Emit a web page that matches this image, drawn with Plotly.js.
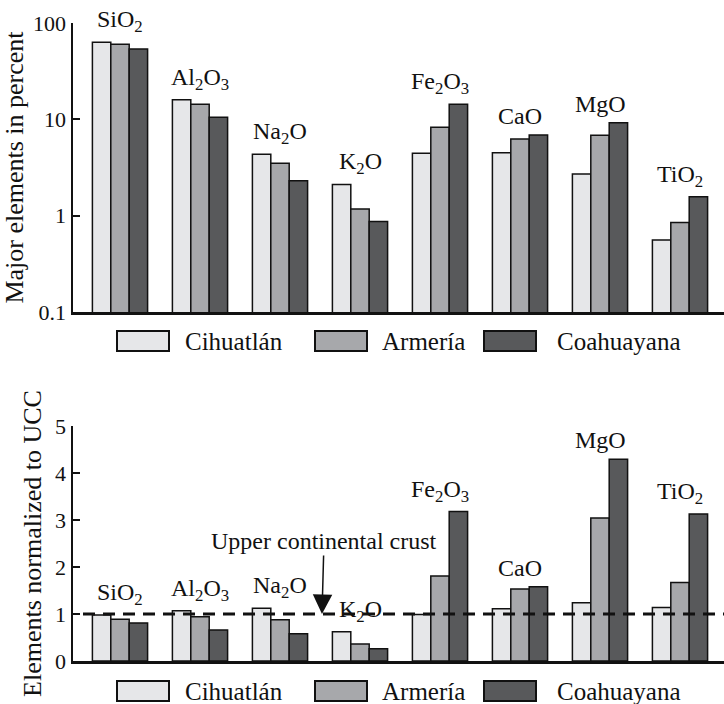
<!DOCTYPE html>
<html>
<head>
<meta charset="utf-8">
<script src="https://cdn.plot.ly/plotly-3.0.1.min.js"></script>
<style>html,body{margin:0;padding:0;background:#fff;}#chart{width:724px;height:704px;}</style>
</head>
<body>
<div id="chart"></div>
<script>
// ---- data ----
var categories = ['SiO2', 'Al2O3', 'Na2O', 'K2O', 'Fe2O3', 'CaO', 'MgO', 'TiO2'];
var categoryLabels = ['SiO<sub>2</sub>', 'Al<sub>2</sub>O<sub>3</sub>', 'Na<sub>2</sub>O', 'K<sub>2</sub>O',
                      'Fe<sub>2</sub>O<sub>3</sub>', 'CaO', 'MgO', 'TiO<sub>2</sub>'];
var seriesNames = ['Cihuatlán', 'Armería', 'Coahuayana'];
var seriesColors = ['#e6e7e9', '#a7a8ab', '#58595b'];

// Major elements in percent (log scale)
var cihuatlanPct  = [63.0, 16.0, 4.33, 2.11, 4.44, 4.51, 2.71, 0.56];
var armeriaPct    = [60.0, 14.3, 3.49, 1.17, 8.26, 6.26, 6.82, 0.85];
var coahuayanaPct = [53.8, 10.5, 2.31, 0.87, 14.3, 6.89, 9.24, 1.57];

// Elements normalized to upper continental crust
var cihuatlanUCC  = [0.98, 1.07, 1.12, 0.62, 0.99, 1.11, 1.24, 1.14];
var armeriaUCC    = [0.89, 0.94, 0.88, 0.36, 1.81, 1.53, 3.04, 1.67];
var coahuayanaUCC = [0.81, 0.66, 0.58, 0.26, 3.18, 1.58, 4.29, 3.13];
var uccReference = 1;

var topTicks = [0.1, 1, 10, 100];
var topTickText = ['0.1', '1', '10', '100'];
var bottomTicks = [0, 1, 2, 3, 4, 5];

// ---- build ----
var FONT = '"Liberation Serif", "DejaVu Serif", Times, serif';
var W = 724, H = 704, ML = 73, PW = W - ML;
var topSeries = [cihuatlanPct, armeriaPct, coahuayanaPct];
var botSeries = [cihuatlanUCC, armeriaUCC, coahuayanaUCC];

var traces = [];
topSeries.forEach(function (vals, i) {
  traces.push({type: 'bar', x: categories, y: vals, name: seriesNames[i], xaxis: 'x', yaxis: 'y',
    marker: {color: seriesColors[i], line: {color: '#111', width: 1.5}}, showlegend: false, hoverinfo: 'x+y'});
});
botSeries.forEach(function (vals, i) {
  traces.push({type: 'bar', x: categories, y: vals, name: seriesNames[i], xaxis: 'x2', yaxis: 'y2',
    marker: {color: seriesColors[i], line: {color: '#111', width: 1.5}}, showlegend: false, hoverinfo: 'x+y'});
});

var annotations = [];
var shapes = [];

function groupMax(series, k) {
  return Math.max.apply(null, series.map(function (s) { return s[k]; }));
}
categories.forEach(function (c, k) {
  annotations.push({xref: 'x', yref: 'y', x: c, y: Math.log10(groupMax(topSeries, k)), text: categoryLabels[k],
    showarrow: false, yanchor: 'bottom', yshift: 4, font: {family: FONT, size: 24, color: '#111'}});
  annotations.push({xref: 'x2', yref: 'y2', x: c, y: groupMax(botSeries, k), text: categoryLabels[k],
    showarrow: false, yanchor: 'bottom', yshift: 4, font: {family: FONT, size: 24, color: '#111'}});
});

// UCC reference line
shapes.push({type: 'line', xref: 'paper', yref: 'y2', x0: 10 / PW, x1: 1, y0: uccReference, y1: uccReference,
  line: {color: '#111', width: 3, dash: '12px,8px'}});

// Arrow annotation
annotations.push({xref: 'x2', yref: 'y2', x: 2.525, y: uccReference, ax: 2, ay: -73,
  text: 'Upper continental crust', showarrow: true, arrowhead: 2, arrowsize: 2.6, arrowwidth: 1.5,
  arrowcolor: '#111', standoff: 0, font: {family: FONT, size: 24, color: '#111'}});

// Custom legends (two rows); pixel positions converted to paper coords
var boxX = [[117, 169], [315, 367], [484, 536]];
var textX = [183, 380, 555];
var rowsY = [[331, 351], [681, 701]];
function px(x) { return (x - ML) / PW; }
rowsY.forEach(function (ry) {
  seriesNames.forEach(function (nm, i) {
    shapes.push({type: 'rect', xref: 'paper', yref: 'paper',
      x0: px(boxX[i][0]), x1: px(boxX[i][1]), y0: 1 - ry[1] / H, y1: 1 - ry[0] / H,
      fillcolor: seriesColors[i], line: {color: '#111', width: 2}});
    annotations.push({xref: 'paper', yref: 'paper', x: px(textX[i]), y: 1 - (ry[0] + ry[1]) / 2 / H,
      xanchor: 'left', yanchor: 'middle', text: nm, showarrow: false,
      font: {family: FONT, size: 25, color: '#111'}});
  });
});

var xr = [-0.5875, 7.55];
var layout = {
  width: W, height: H,
  margin: {l: ML, r: 0, t: 0, b: 0},
  paper_bgcolor: '#fff', plot_bgcolor: '#fff',
  font: {family: FONT, color: '#111'},
  barmode: 'group', bargap: 0.31, bargroupgap: 0,
  showlegend: false,
  xaxis: {domain: [0, 1], anchor: 'y', type: 'category', range: xr, showline: true, linewidth: 3, linecolor: '#111',
    showticklabels: false, ticks: '', showgrid: false, zeroline: false},
  yaxis: {domain: [1 - 312 / H, 1 - 23 / H], anchor: 'x', type: 'log', range: [-1, 2],
    tickvals: topTicks, ticktext: topTickText, ticks: 'inside', ticklen: 7, tickwidth: 2, tickcolor: '#111',
    showline: true, linewidth: 2.5, linecolor: '#111', showgrid: false, zeroline: false,
    tickfont: {family: FONT, size: 22, color: '#111'},
    title: {text: 'Major elements in percent', font: {family: FONT, size: 26, color: '#111'}, standoff: 6}},
  xaxis2: {domain: [0, 1], anchor: 'y2', type: 'category', range: xr, showline: true, linewidth: 3, linecolor: '#111',
    showticklabels: false, ticks: '', showgrid: false, zeroline: false},
  yaxis2: {domain: [1 - 661 / H, 1 - 426 / H], anchor: 'x2', range: [0, 5],
    tickvals: bottomTicks, ticks: 'inside', ticklen: 7, tickwidth: 2, tickcolor: '#111',
    showline: true, linewidth: 2.5, linecolor: '#111', showgrid: false, zeroline: false,
    tickfont: {family: FONT, size: 22, color: '#111'},
    title: {text: 'Elements normalized to UCC', font: {family: FONT, size: 26, color: '#111'}, standoff: 6}},
  shapes: shapes,
  annotations: annotations
};

Plotly.newPlot('chart', traces, layout, {displayModeBar: false, staticPlot: true});
</script>
</body>
</html>
